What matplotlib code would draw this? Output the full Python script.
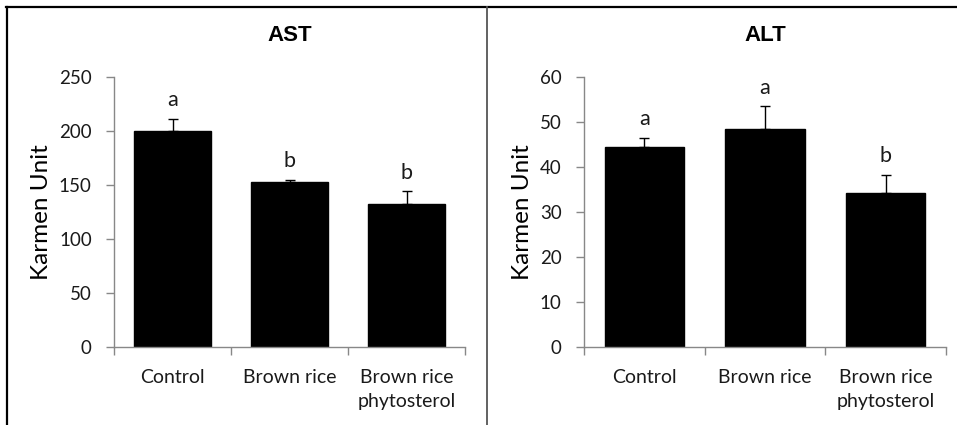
import numpy as np
import matplotlib.pyplot as plt
from matplotlib.lines import Line2D

# data
groups = ['Control', 'Brown rice', 'Brown rice\nphytosterol']
ast_mean = [200, 152.5, 132.5]
ast_err = [11.5, 2.5, 11.5]
ast_letters = ['a', 'b', 'b']
alt_mean = [44.5, 48.5, 34.3]
alt_err = [2.0, 5.0, 4.0]
alt_letters = ['a', 'a', 'b']

plt.rcParams['font.family'] = ['Lato', 'DejaVu Sans']
plt.rcParams['text.color'] = '#1a1a1a'
plt.rcParams['xtick.labelcolor'] = '#1a1a1a'
plt.rcParams['ytick.labelcolor'] = '#1a1a1a'

fig = plt.figure(figsize=(9.57, 4.25), dpi=100)

def panel(rect, means, errs, letters, title, ymax, step):
    ax = fig.add_axes(rect)
    x = np.arange(len(groups))
    ax.bar(x, means, width=0.66, color='black', edgecolor='black', zorder=2)
    ax.errorbar(x, means, yerr=[np.zeros(len(errs)), errs], fmt='none',
                ecolor='black', elinewidth=1.0, capsize=3.5, capthick=1.0, zorder=3)
    for xi, m, e, l in zip(x, means, errs, letters):
        ax.annotate(l, (xi, m + e), xytext=(0, 6), textcoords='offset points',
                    ha='center', va='bottom', fontsize=15.5)
    ax.set_xlim(-0.5, len(groups) - 0.5)
    ax.set_ylim(0, ymax)
    ax.set_yticks(np.arange(0, ymax + 1, step))
    ax.set_xticks(x)
    ax.set_xticklabels(groups, fontsize=14, linespacing=1.5)
    ax.set_xticks(np.arange(-0.5, len(groups)), minor=True)
    ax.tick_params(axis='x', which='major', length=0, pad=16)
    ax.tick_params(axis='x', which='minor', length=6, direction='out',
                   color='#888888', width=1.0)
    ax.tick_params(axis='y', length=6, direction='out', color='#888888',
                   width=1.0, labelsize=13.5, pad=10)
    for s in ['top', 'right']:
        ax.spines[s].set_visible(False)
    for s in ['left', 'bottom']:
        ax.spines[s].set_color('#888888')
        ax.spines[s].set_linewidth(1.0)
    ax.set_ylabel('Karmen Unit', fontsize=17.5, labelpad=5)
    ax.set_title(title, fontsize=16, fontweight='bold', color='black',
                 family='Liberation Sans', pad=26)
    return ax

panel([114 / 957, 78 / 425, 351 / 957, 270 / 425], ast_mean, ast_err,
      ast_letters, 'AST', 250, 50)
panel([584 / 957, 78 / 425, 362 / 957, 270 / 425], alt_mean, alt_err,
      alt_letters, 'ALT', 60, 10)

# frame around the figure
top = 1 - 7 / 425
fig.add_artist(Line2D([6 / 957, 1], [top, top], color='black', lw=1.6,
                      transform=fig.transFigure))
fig.add_artist(Line2D([7 / 957, 7 / 957], [0, top], color='black', lw=1.6,
                      transform=fig.transFigure))
fig.add_artist(Line2D([487 / 957, 487 / 957], [0, top], color='#555555', lw=1.3,
                      transform=fig.transFigure))

fig.savefig('out.png', dpi=100)
